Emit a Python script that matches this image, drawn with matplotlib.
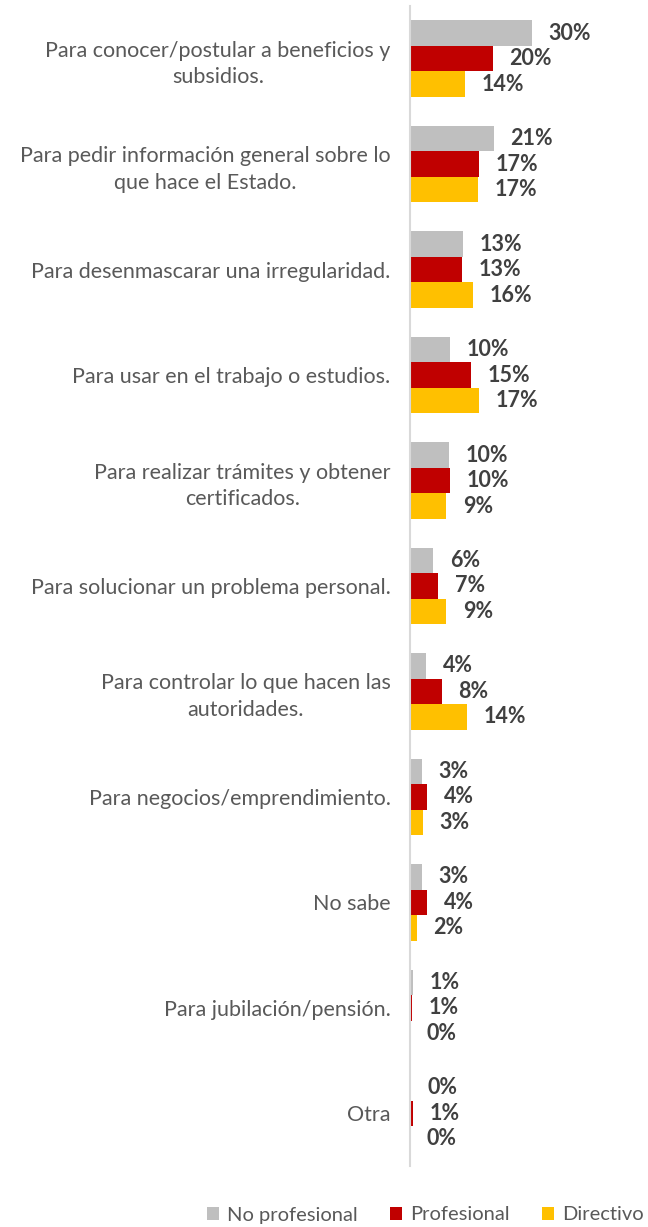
import matplotlib.pyplot as plt
import numpy as np

plt.rcParams['font.family'] = ['Lato', 'DejaVu Sans']

categories = [
    'Para conocer/postular a beneficios y\nsubsidios.',
    'Para pedir información general sobre lo\nque hace el Estado.',
    'Para desenmascarar una irregularidad.',
    'Para usar en el trabajo o estudios.',
    'Para realizar trámites y obtener\ncertificados.',
    'Para solucionar un problema personal.',
    'Para controlar lo que hacen las\nautoridades.',
    'Para negocios/emprendimiento.',
    'No sabe',
    'Para jubilación/pensión.',
    'Otra',
]
no_profesional = [30.1, 20.7, 13.1, 9.9, 9.6, 5.7, 4.0, 3.0, 3.0, 0.7, 0.3]
profesional = [20.4, 17.0, 12.8, 15.1, 9.9, 6.9, 7.9, 4.2, 4.2, 0.6, 0.8]
directivo = [13.6, 16.7, 15.6, 17.0, 8.9, 8.9, 14.1, 3.2, 1.7, 0.0, 0.0]

series = [('No profesional', no_profesional, '#BFBFBF'),
          ('Profesional', profesional, '#C00000'),
          ('Directivo', directivo, '#FFC000')]

fig = plt.figure(figsize=(6.48, 12.27), dpi=100)
ax = fig.add_axes([410 / 648, 1 - 1166 / 1227, 232 / 648, 1160 / 1227])

y = np.arange(len(categories))
h = 0.242
for i, (name, vals, col) in enumerate(series):
    pos = y + (i - 1) * h
    ax.barh(pos, vals, height=h, color=col, label=name)
    for p, v in zip(pos, vals):
        ax.text(v + 4.1, p, f'{v:.0f}%', va='center', ha='left',
                fontsize=15.5, fontweight='bold', color='#404040')

ax.set_xlim(0, 232 / 4.05)
ax.set_ylim(len(categories) - 0.5, -0.5)
ax.set_yticks(y)
ax.set_yticklabels(categories, fontsize=15.5, color='#595959',
                   ha='right', multialignment='center', linespacing=1.4)
ax.tick_params(axis='y', length=0, pad=14)
ax.set_xticks([])
for s in ['top', 'right', 'bottom']:
    ax.spines[s].set_visible(False)
ax.spines['left'].set_color('#D9D9D9')
ax.spines['left'].set_linewidth(1.5)

fig.legend(loc='center', bbox_to_anchor=(425 / 648, 1 - 1215 / 1227), ncol=3,
           frameon=False, fontsize=14.5, labelcolor='#595959',
           handlelength=0.6, handleheight=0.6, handletextpad=0.4,
           columnspacing=1.6, borderpad=0.2)

fig.savefig('out.png', dpi=100)
